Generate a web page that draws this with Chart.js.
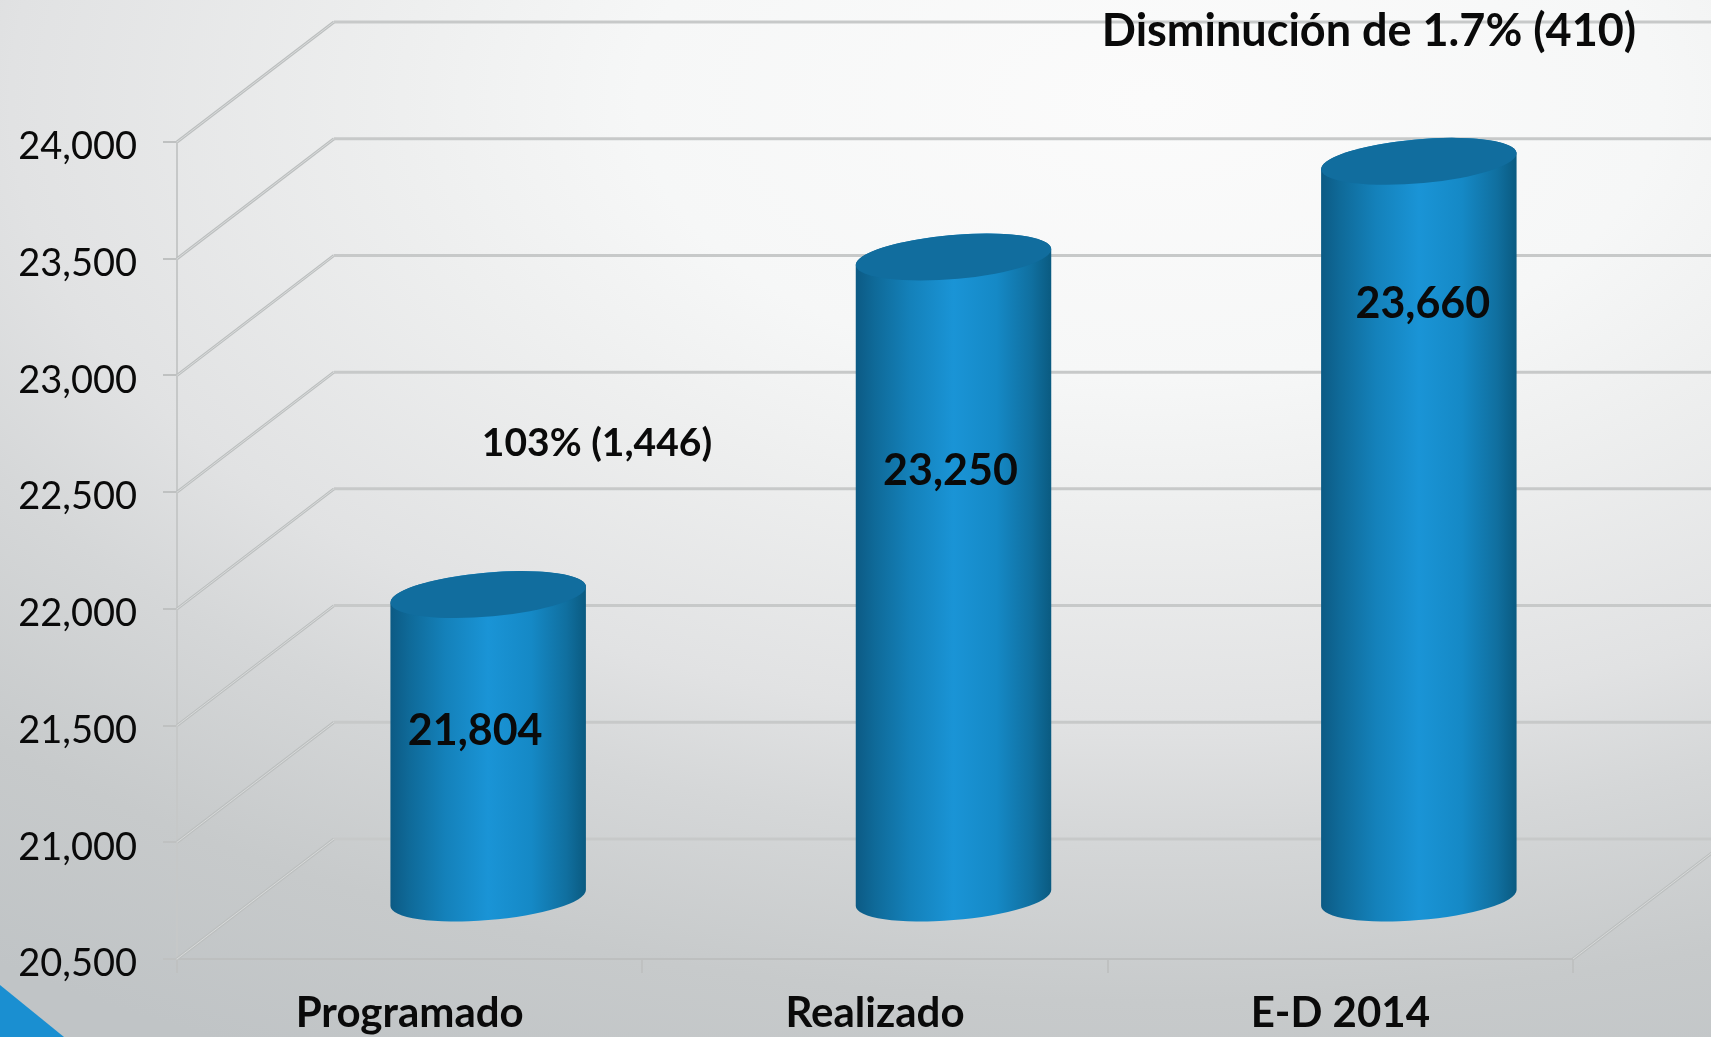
<!DOCTYPE html>
<html lang="es">
<head>
<meta charset="utf-8">
<title>Programado, Realizado, E-D 2014</title>
<script src="https://cdn.jsdelivr.net/npm/chart.js@4"></script>
<style>
    html, body { margin: 0; padding: 0; overflow: hidden; }
    body {
        width: 1711px;
        height: 1037px;
        position: relative;
        background: radial-gradient(ellipse 1700px 930px at 1150px 100px, #fbfbfb 0%, #f6f7f7 30%, #eeefef 44%, #e1e2e3 67%, #d5d7d8 79%, #c7cacb 97%, #c0c4c6 115%);
    }
    #corner {
        position: absolute;
        left: 0;
        top: 985px;
        width: 64px;
        height: 52px;
        background: #1a8fd1;
        clip-path: polygon(0 0, 100% 100%, 0 100%);
    }
    canvas { position: absolute; left: 0; top: 0; }
</style>
</head>
<body>
<div id="corner"></div>
<canvas id="chart" width="1711" height="1037"></canvas>
<script>
const categories = ['Programado', 'Realizado', 'E-D 2014'];
const values = [21804, 23250, 23660];
const valueLabels = ['21,804', '23,250', '23,660'];
const axisMin = 20500;
const axisMax = 24000;
const axisStep = 500;
const noteDecrease = 'Disminución de 1.7% (410)';
const noteIncrease = '103% (1,446)';

const FONT = 'Lato, "Open Sans", sans-serif';
const GRID = '#c7c9c9';
const DIAGONAL = '#bcbfbf';

// depth of the fake 3D box
const DEPTH_X = 157;
const DEPTH_Y = 120;

// where the value labels sit relative to the top of each cylinder
const labelShiftX = [-13, -3, 4];
const labelShiftY = [137, 214, 143];

function ellipsePath(ctx, cx, cy, from, to) {
    // circle on the floor plane, sheared along the depth direction
    ctx.save();
    ctx.transform(92, 0, 33, -23.5, cx, cy);
    ctx.arc(0, 0, 1, from, to);
    ctx.restore();
}

function drawCylinder(ctx, x, top, bottom, halfW) {
    const t = Math.atan2(33, 92); // angle of the sideways extreme
    const g = ctx.createLinearGradient(x - halfW, 0, x + halfW, 0);
    g.addColorStop(0, '#0c5a84');
    g.addColorStop(0.1, '#0f6a99');
    g.addColorStop(0.28, '#1481ba');
    g.addColorStop(0.5, '#1a94d6');
    g.addColorStop(0.72, '#1589c6');
    g.addColorStop(0.9, '#106f9f');
    g.addColorStop(1, '#0a5a80');

    // side
    ctx.beginPath();
    ellipsePath(ctx, x, bottom, Math.PI + t, 2 * Math.PI + t);
    ellipsePath(ctx, x, top, t, Math.PI + t);
    ctx.closePath();
    ctx.fillStyle = g;
    ctx.fill();

    // top cap
    ctx.beginPath();
    ellipsePath(ctx, x, top, 0, 2 * Math.PI);
    ctx.closePath();
    ctx.fillStyle = '#116d9e';
    ctx.fill();
}

function drawDiagonal(ctx, x, y) {
    ctx.beginPath();
    ctx.moveTo(x, y);
    ctx.lineTo(x + DEPTH_X, y - DEPTH_Y);
    ctx.strokeStyle = DIAGONAL;
    ctx.lineWidth = 3;
    ctx.stroke();
    ctx.strokeStyle = 'rgba(235,236,236,0.6)';
    ctx.lineWidth = 1;
    ctx.stroke();
}

const boxPlugin = {
    id: 'box',
    beforeDatasetsDraw(chart) {
        const { ctx, chartArea, scales } = chart;
        ctx.save();
        scales.y.ticks.forEach(tick => {
            const y = scales.y.getPixelForValue(tick.value);
            drawDiagonal(ctx, chartArea.left, y);
            // back wall line
            ctx.beginPath();
            ctx.moveTo(chartArea.left + DEPTH_X, y - DEPTH_Y);
            ctx.lineTo(chart.width, y - DEPTH_Y);
            ctx.strokeStyle = GRID;
            ctx.lineWidth = 3;
            ctx.stroke();
        });
        // floor, right side
        drawDiagonal(ctx, chartArea.right, scales.y.getPixelForValue(axisMin));
        ctx.restore();
    },
    afterDatasetsDraw(chart) {
        const { ctx } = chart;
        const meta = chart.getDatasetMeta(0);
        ctx.save();
        meta.data.forEach((bar, i) => {
            const x = bar.x + DEPTH_X / 2;
            const top = bar.y - DEPTH_Y / 2;
            const bottom = bar.base - DEPTH_Y / 2;
            drawCylinder(ctx, x, top, bottom, bar.width / 2);
            ctx.font = 'bold 43px ' + FONT;
            ctx.fillStyle = '#0a0a0a';
            ctx.textAlign = 'center';
            ctx.textBaseline = 'middle';
            ctx.fillText(valueLabels[i], x + labelShiftX[i], top + labelShiftY[i]);
        });
        ctx.font = 'bold 45px ' + FONT;
        ctx.fillStyle = '#0a0a0a';
        ctx.textAlign = 'center';
        ctx.textBaseline = 'middle';
        ctx.fillText(noteDecrease, 1369, 31);
        ctx.font = 'bold 39px ' + FONT;
        ctx.fillText(noteIncrease, 597, 443);
        ctx.restore();
    }
};

new Chart(document.getElementById('chart'), {
    type: 'bar',
    data: {
        labels: categories,
        datasets: [{
            data: values,
            base: axisMin,
            barThickness: 196,
            backgroundColor: 'rgba(0,0,0,0)'
        }]
    },
    options: {
        responsive: false,
        animation: false,
        layout: { padding: { top: 142, right: 138, bottom: 0, left: 0 } },
        plugins: {
            legend: { display: false },
            tooltip: { enabled: false }
        },
        scales: {
            x: {
                afterFit(scale) { scale.height = 78; },
                grid: { drawOnChartArea: false, color: '#bfc1c1', lineWidth: 2, tickLength: 14 },
                border: { color: '#bdbfbf', width: 2 },
                ticks: {
                    color: '#0a0a0a',
                    padding: 15,
                    maxRotation: 0,
                    font: { family: FONT, size: 42, weight: 'bold' }
                }
            },
            y: {
                min: axisMin,
                max: axisMax,
                afterFit(scale) { scale.width = 177; },
                grid: { drawOnChartArea: false, color: '#bfc1c1', lineWidth: 2, tickLength: 14 },
                border: { color: '#c6c8c8', width: 2 },
                ticks: {
                    stepSize: axisStep,
                    color: '#0a0a0a',
                    padding: 26,
                    labelOffset: 5,
                    font: { family: FONT, size: 38 },
                    callback: v => v.toLocaleString('en-US')
                }
            }
        }
    },
    plugins: [boxPlugin]
});
</script>
</body>
</html>
